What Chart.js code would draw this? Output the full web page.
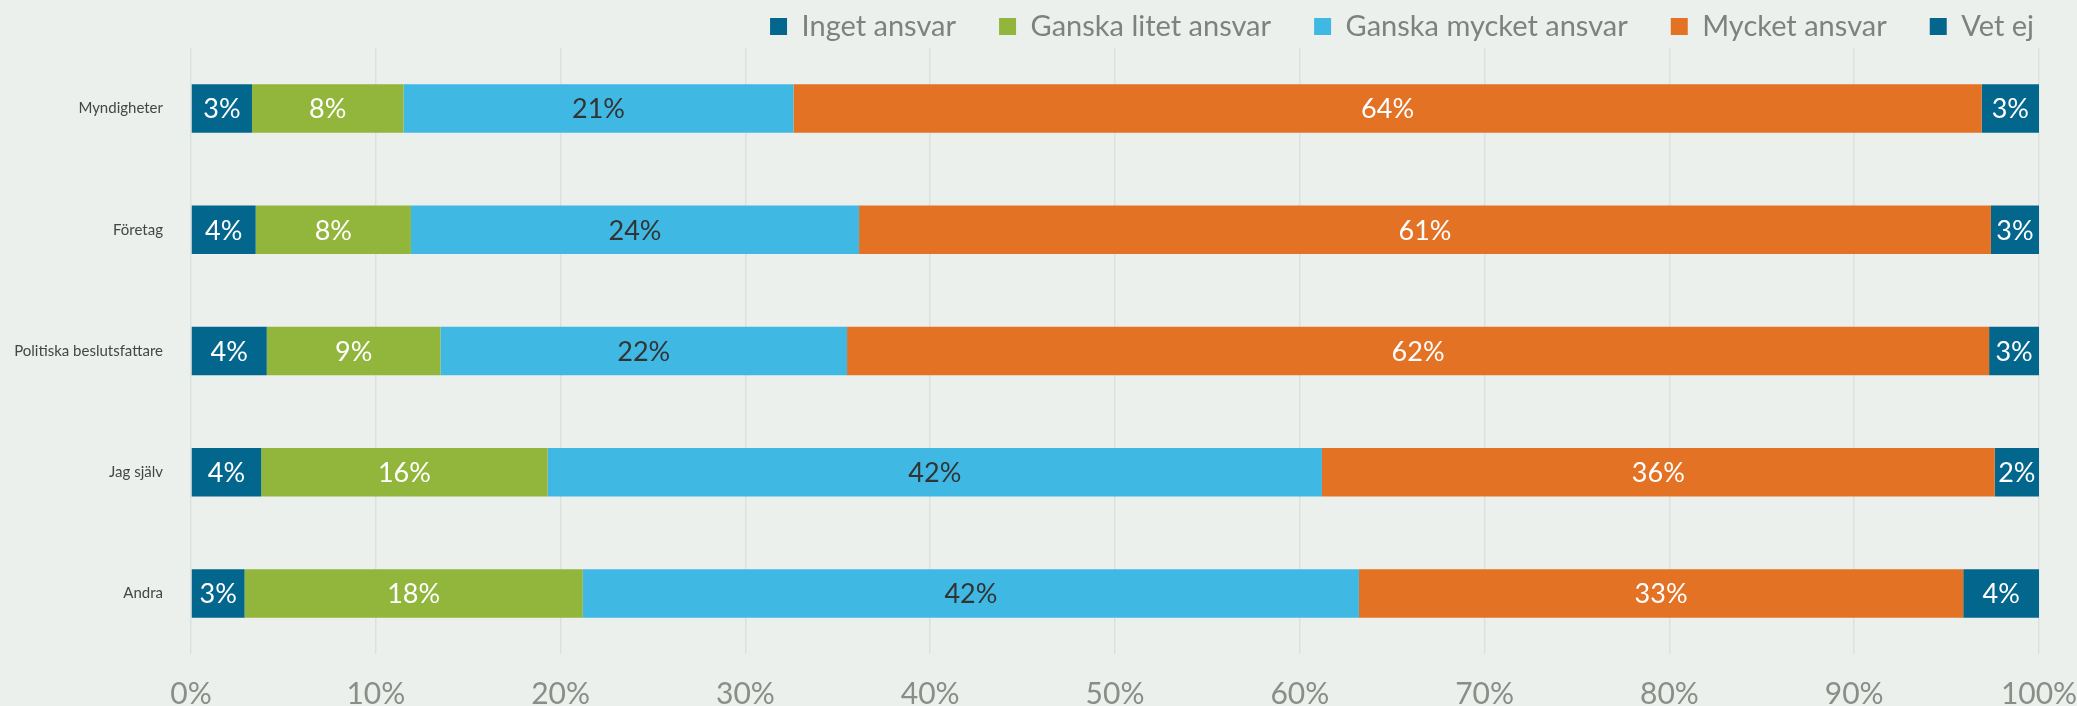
<!DOCTYPE html>
<html>
<head>
<meta charset="utf-8">
<script src="https://cdn.jsdelivr.net/npm/chart.js@4"></script>
<style>
  html, body { margin: 0; padding: 0; background: #ecf0ec; }
  #wrap { width: 2077px; height: 706px; }
</style>
</head>
<body>
<div id="wrap"><canvas id="c" width="2077" height="706"></canvas></div>
<script>
const categories = ['Myndigheter', 'Företag', 'Politiska beslutsfattare', 'Jag själv', 'Andra'];
const seriesNames = ['Inget ansvar', 'Ganska litet ansvar', 'Ganska mycket ansvar', 'Mycket ansvar', 'Vet ej'];
const ingetAnsvar       = [3.3, 3.5, 4.1, 3.8, 2.9];
const ganskaLitetAnsvar = [8.2, 8.4, 9.4, 15.5, 18.3];
const ganskaMycketAnsvar= [21.1, 24.25, 22.0, 41.9, 42.0];
const mycketAnsvar      = [64.3, 61.25, 61.8, 36.4, 32.7];
const vetEj             = [3.1, 2.6, 2.7, 2.4, 4.1];
const tickValues = [0, 10, 20, 30, 40, 50, 60, 70, 80, 90, 100];

const colors = ['#03668c', '#92b63b', '#3fb8e4', '#e37225', '#03668c'];
const labelColors = ['#ffffff', '#ffffff', '#333333', '#ffffff', '#ffffff'];
const seriesData = [ingetAnsvar, ganskaLitetAnsvar, ganskaMycketAnsvar, mycketAnsvar, vetEj];

const FONT = 'Lato, "Open Sans", sans-serif';

const barLabels = {
  id: 'barLabels',
  beforeLayout(chart) {
    const lg = chart.legend;
    if (lg && !lg._patched) {
      const f = lg.fit;
      lg.fit = function () { f.call(this); this.height = 48; };
      lg._patched = true;
    }
  },
  afterLayout(chart) {
    const lg = chart.legend;
    if (lg) { lg.top -= 31; lg.height = lg.bottom - lg.top; }
  },
  afterDatasetsDraw(chart) {
    const ctx = chart.ctx;
    ctx.save();
    ctx.font = '27px ' + FONT;
    ctx.textAlign = 'center';
    ctx.textBaseline = 'middle';
    chart.data.datasets.forEach((ds, i) => {
      const meta = chart.getDatasetMeta(i);
      meta.data.forEach((el, j) => {
        const v = ds.data[j];
        const left = Math.min(el.x, el.base);
        const right = Math.max(el.x, el.base);
        ctx.fillStyle = labelColors[i];
        ctx.fillText(Math.round(v) + '%', (left + right) / 2, el.y + 1);
      });
    });
    ctx.restore();
  }
};

new Chart(document.getElementById('c'), {
  type: 'bar',
  data: {
    labels: categories,
    datasets: seriesNames.map((name, i) => ({
      label: name,
      data: seriesData[i],
      backgroundColor: colors[i],
      borderWidth: 0,
      barPercentage: 0.4,
      categoryPercentage: 1.0
    }))
  },
  options: {
    indexAxis: 'y',
    responsive: false,
    animation: false,
    devicePixelRatio: 1,
    layout: { padding: 0 },
    plugins: {
      legend: {
        position: 'top',
        align: 'end',
        labels: {
          boxWidth: 17,
          boxHeight: 17,
          padding: 43,
          color: '#7e827f',
          font: { family: FONT, size: 29 }
        }
      },
      tooltip: { enabled: false }
    },
    scales: {
      x: {
        stacked: true,
        min: 0,
        max: 100,
        afterBuildTicks(axis) { axis.ticks = tickValues.map(v => ({ value: v })); },
        afterFit(scale) { scale.height = 52; scale.paddingRight = 38; scale.paddingLeft = 0; },
        ticks: {
          color: '#8a8d88',
          font: { family: FONT, size: 30 },
          padding: 22,
          callback: v => v + '%'
        },
        grid: { color: '#dde1dd', lineWidth: 1.5, drawTicks: false },
        border: { display: false }
      },
      y: {
        stacked: true,
        afterFit(scale) { scale.width = 191; },
        ticks: {
          color: '#454545',
          font: { family: FONT, size: 15 },
          padding: 28
        },
        grid: { display: false, drawTicks: false },
        border: { display: false }
      }
    }
  },
  plugins: [barLabels]
});
</script>
</body>
</html>
